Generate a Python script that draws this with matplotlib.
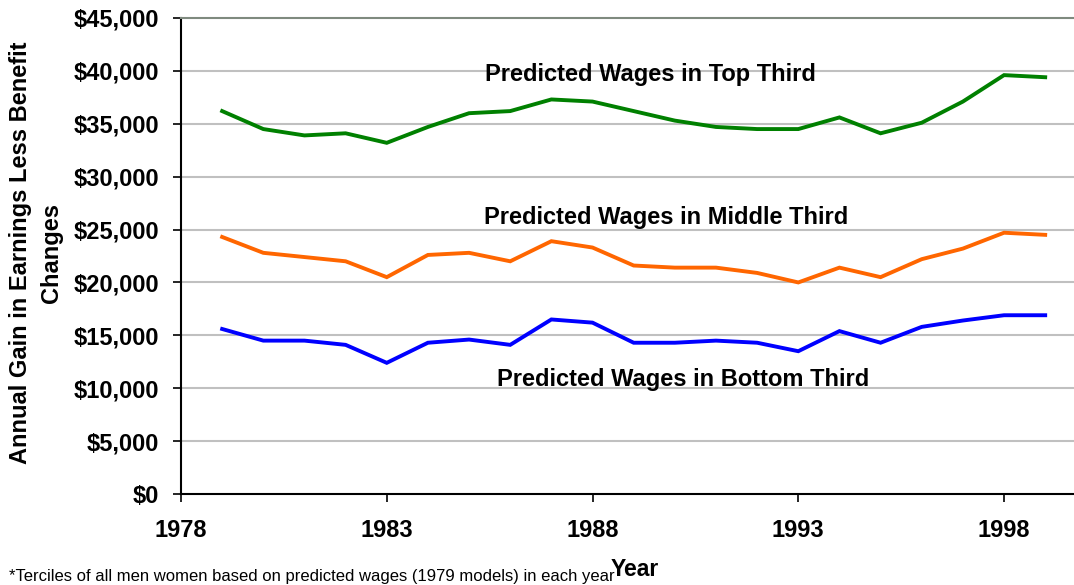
import matplotlib
matplotlib.use("Agg")
import matplotlib.pyplot as plt
from matplotlib.ticker import FuncFormatter, FixedLocator

plt.rcParams['font.family'] = ['Liberation Sans', 'DejaVu Sans']

years = list(range(1979, 2000))
top_third = [36.2, 34.5, 33.9, 34.1, 33.2, 34.7, 36.0, 36.2, 37.3, 37.1, 36.2,
             35.3, 34.7, 34.5, 34.5, 35.6, 34.1, 35.1, 37.1, 39.6, 39.4]
middle_third = [24.3, 22.8, 22.4, 22.0, 20.5, 22.6, 22.8, 22.0, 23.9, 23.3, 21.6,
                21.4, 21.4, 20.9, 20.0, 21.4, 20.5, 22.2, 23.2, 24.7, 24.5]
bottom_third = [15.6, 14.5, 14.5, 14.1, 12.4, 14.3, 14.6, 14.1, 16.5, 16.2, 14.3,
                14.3, 14.5, 14.3, 13.5, 15.4, 14.3, 15.8, 16.4, 16.9, 16.9]
top_third = [v * 1000 for v in top_third]
middle_third = [v * 1000 for v in middle_third]
bottom_third = [v * 1000 for v in bottom_third]

x_ticks = [1978, 1983, 1988, 1993, 1998]
y_ticks = list(range(0, 45001, 5000))
labels = ["Predicted Wages in Top Third", "Predicted Wages in Middle Third",
          "Predicted Wages in Bottom Third"]
footnote = "*Terciles of all men women based on predicted wages (1979 models) in each year"

W, H = 1074, 585
fig = plt.figure(figsize=(W / 100, H / 100), dpi=100)
ax = fig.add_axes([181 / W, 1 - 494 / H, (W - 181) / W, (494 - 18) / H])

ax.set_xlim(1978, 1999.7)
ax.set_ylim(0, 45000)

for y in y_ticks[1:-1]:
    ax.axhline(y, color='#c0c0c0', lw=1.5, zorder=0)

ax.plot(years, top_third, color='#008000', lw=2.8, solid_joinstyle='miter')
ax.plot(years, middle_third, color='#ff6600', lw=2.8, solid_joinstyle='miter')
ax.plot(years, bottom_third, color='#0000ff', lw=2.8, solid_joinstyle='miter')

ax.spines['right'].set_visible(False)
ax.spines['top'].set_color('#7f8a7f')
ax.spines['top'].set_linewidth(1.5)
for s in ['left', 'bottom']:
    ax.spines[s].set_color('black')
    ax.spines[s].set_linewidth(1.5)

ax.xaxis.set_major_locator(FixedLocator(x_ticks))
ax.yaxis.set_major_locator(FixedLocator(y_ticks))
ax.yaxis.set_major_formatter(FuncFormatter(lambda v, p: "${:,.0f}".format(v)))
ax.tick_params(axis='both', direction='out', length=6, width=1.2, color='black',
               labelsize=17)
ax.tick_params(axis='x', pad=12)
ax.tick_params(axis='y', pad=10)
for lab in ax.get_xticklabels() + ax.get_yticklabels():
    lab.set_fontweight('bold')

ax.text(1989.40, 39700, labels[0], ha='center', va='center', fontsize=17, fontweight='bold')
ax.text(1989.79, 26180, labels[1], ha='center', va='center', fontsize=17, fontweight='bold')
ax.text(1990.20, 10780, labels[2], ha='center', va='center', fontsize=17, fontweight='bold')

fig.text(36 / W, 1 - 253 / H, "Annual Gain in Earnings Less Benefit\nChanges",
         rotation=90, ha='center', va='center', fontsize=17, fontweight='bold',
         multialignment='center', linespacing=1.4)
fig.text(635 / W, 1 - 570 / H, "Year", ha='center', va='center', fontsize=16.5, fontweight='bold')
fig.text(9 / W, 1 - 584 / H, footnote, ha='left', va='bottom', fontsize=12)

fig.savefig("out.png", dpi=100)
